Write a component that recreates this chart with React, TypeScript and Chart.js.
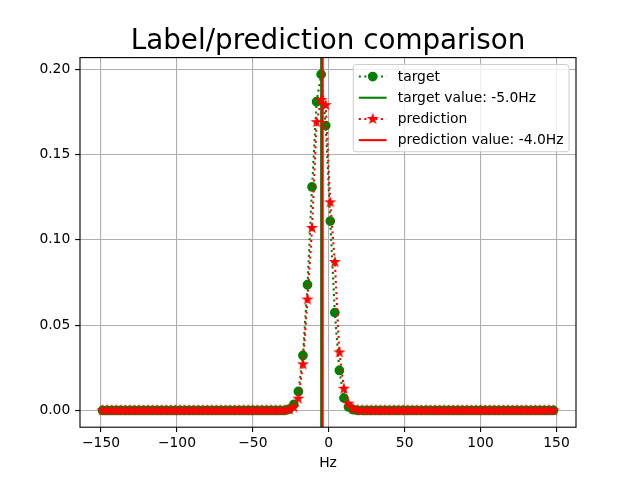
import { useEffect, useRef } from "react";
import { Chart, registerables, type ChartConfiguration, type Plugin } from "chart.js";

Chart.register(...registerables);

// frequency bins (Hz)
const HZ = [
  -149, -146, -143, -140, -137, -134, -131, -128, -125, -122,
  -119, -116, -113, -110, -107, -104, -101, -98, -95, -92,
  -89, -86, -83, -80, -77, -74, -71, -68, -65, -62,
  -59, -56, -53, -50, -47, -44, -41, -38, -35, -32,
  -29, -26, -23, -20, -17, -14, -11, -8, -5, -2,
  1, 4, 7, 10, 13, 16, 19, 22, 25, 28,
  31, 34, 37, 40, 43, 46, 49, 52, 55, 58,
  61, 64, 67, 70, 73, 76, 79, 82, 85, 88,
  91, 94, 97, 100, 103, 106, 109, 112, 115, 118,
  121, 124, 127, 130, 133, 136, 139, 142, 145, 148,
];

const TARGET = [
  0, 0, 0, 0, 0, 0, 0, 0, 0, 0,
  0, 0, 0, 0, 0, 0, 0, 0, 0, 0,
  0, 0, 0, 0, 0, 0, 0, 0, 0, 0,
  0, 0, 0, 0, 0, 0, 0, 0, 0, 0,
  0, 0.0008, 0.0035, 0.0111, 0.0322, 0.0737, 0.131, 0.181, 0.197, 0.167,
  0.111, 0.0573, 0.0234, 0.0072, 0.002, 0.0005, 0, 0, 0, 0,
  0, 0, 0, 0, 0, 0, 0, 0, 0, 0,
  0, 0, 0, 0, 0, 0, 0, 0, 0, 0,
  0, 0, 0, 0, 0, 0, 0, 0, 0, 0,
  0, 0, 0, 0, 0, 0, 0, 0, 0, 0,
];

const PREDICTION = [
  0, 0, 0, 0, 0, 0, 0, 0, 0, 0,
  0, 0, 0, 0, 0, 0, 0, 0, 0, 0,
  0, 0, 0, 0, 0, 0, 0, 0, 0, 0,
  0, 0, 0, 0, 0, 0, 0, 0, 0, 0,
  0.0001, 0.0005, 0.0018, 0.0069, 0.027, 0.065, 0.107, 0.169, 0.182, 0.179,
  0.122, 0.087, 0.034, 0.0127, 0.004, 0.001, 0.0003, 0, 0, 0,
  0, 0, 0, 0, 0, 0, 0, 0, 0, 0,
  0, 0, 0, 0, 0, 0, 0, 0, 0, 0,
  0, 0, 0, 0, 0, 0, 0, 0, 0, 0,
  0, 0, 0, 0, 0, 0, 0, 0, 0, 0,
];

const TARGET_VALUE = -5.0;
const PREDICTION_VALUE = -4.0;

const X_TICKS = [-150, -100, -50, 0, 50, 100, 150];
const Y_TICKS = [0, 0.05, 0.1, 0.15, 0.2];
const X_MIN = -163.85;
const X_MAX = 162.85;
const Y_MIN = -0.00985;
const Y_MAX = 0.20685;

const TITLE = "Label/prediction comparison";
const X_LABEL = "Hz";
const LEGEND_LABELS = [
  "target",
  `target value: ${TARGET_VALUE.toFixed(1)}Hz`,
  "prediction",
  `prediction value: ${PREDICTION_VALUE.toFixed(1)}Hz`,
];

const GREEN = "#008000";
const RED = "#ff0000";
const FONT = "'DejaVu Sans', sans-serif";
const FS = 13.89;
const LW = 2.08;
const DASH = [2.08, 3.44];

function makeStar(color: string) {
  const c = document.createElement("canvas");
  c.width = 14;
  c.height = 14;
  const g = c.getContext("2d")!;
  const R = 4.17;
  const r = R * 0.381966;
  g.beginPath();
  for (let k = 0; k < 10; k++) {
    const rad = k % 2 === 0 ? R : r;
    const ang = -Math.PI / 2 + (k * Math.PI) / 5;
    const px = 7 + rad * Math.cos(ang);
    const py = 7 + rad * Math.sin(ang);
    if (k === 0) g.moveTo(px, py);
    else g.lineTo(px, py);
  }
  g.closePath();
  g.fillStyle = color;
  g.strokeStyle = color;
  g.lineWidth = 1.39;
  g.lineJoin = "miter";
  g.fill();
  g.stroke();
  return c;
}

const App = () => {
  const chartRef = useRef<HTMLCanvasElement | null>(null);
  const chartInstance = useRef<Chart | null>(null);

  useEffect(() => {
    document.body.style.margin = "0";
    if (!chartRef.current) return;
    const star = makeStar(RED);

    const decorations: Plugin = {
      id: "decorations",
      afterDraw(chart) {
        const { ctx, chartArea: a } = chart;
        ctx.save();
        // frame
        ctx.strokeStyle = "#000";
        ctx.lineWidth = 1.11;
        ctx.strokeRect(a.left, a.top, a.right - a.left, a.bottom - a.top);

        // title + x label
        ctx.fillStyle = "#000";
        ctx.textAlign = "center";
        ctx.textBaseline = "alphabetic";
        ctx.font = `27.78px ${FONT}`;
        ctx.fillText(TITLE, (a.left + a.right) / 2, a.top - 8.33);
        ctx.font = `${FS}px ${FONT}`;
        ctx.fillText(X_LABEL, (a.left + a.right) / 2, 467);

        // legend
        ctx.font = `${FS}px ${FONT}`;
        const maxW = Math.max(...LEGEND_LABELS.map((t) => ctx.measureText(t).width));
        const handle = 2 * FS;
        const boxW = 0.4 * FS + handle + 0.8 * FS + maxW + 0.4 * FS;
        const boxH = 87.2;
        const right = a.right - 0.5 * FS;
        const top = a.top + 0.5 * FS;
        const left = right - boxW;
        ctx.beginPath();
        ctx.roundRect(left, top, boxW, boxH, 3);
        ctx.fillStyle = "rgba(255,255,255,0.8)";
        ctx.fill();
        ctx.strokeStyle = "#cccccc";
        ctx.lineWidth = 1;
        ctx.stroke();

        const hx0 = left + 0.4 * FS;
        const hx1 = hx0 + handle;
        const hxm = (hx0 + hx1) / 2;
        LEGEND_LABELS.forEach((label, i) => {
          const y = top + 12 + i * 21.2;
          const color = i < 2 ? GREEN : RED;
          ctx.strokeStyle = color;
          ctx.lineWidth = LW;
          ctx.setLineDash(i % 2 === 0 ? DASH : []);
          ctx.beginPath();
          ctx.moveTo(hx0, y);
          ctx.lineTo(hx1, y);
          ctx.stroke();
          ctx.setLineDash([]);
          if (i === 0) {
            ctx.beginPath();
            ctx.arc(hxm, y, 4.17, 0, Math.PI * 2);
            ctx.fillStyle = GREEN;
            ctx.fill();
            ctx.lineWidth = 1.39;
            ctx.stroke();
          } else if (i === 2) {
            ctx.drawImage(star, hxm - 7, y - 7);
          }
          ctx.fillStyle = "#000";
          ctx.textAlign = "left";
          ctx.textBaseline = "middle";
          ctx.fillText(label, hx1 + 0.8 * FS, y + 0.5);
        });
        ctx.restore();
      },
    };

    const config: ChartConfiguration<"scatter"> = {
      type: "scatter",
      data: {
        datasets: [
          {
            label: LEGEND_LABELS[0],
            data: HZ.map((x, i) => ({ x, y: TARGET[i] })),
            showLine: true,
            borderColor: GREEN,
            backgroundColor: GREEN,
            borderWidth: LW,
            borderDash: DASH,
            borderJoinStyle: "round",
            pointRadius: 4.17,
            pointBorderWidth: 1.39,
            pointStyle: "circle",
            order: 4,
          },
          {
            label: LEGEND_LABELS[1],
            data: [
              { x: TARGET_VALUE, y: Y_MIN },
              { x: TARGET_VALUE, y: Y_MAX },
            ],
            showLine: true,
            borderColor: GREEN,
            borderWidth: LW,
            pointRadius: 0,
            order: 3,
          },
          {
            label: LEGEND_LABELS[2],
            data: HZ.map((x, i) => ({ x, y: PREDICTION[i] })),
            showLine: true,
            borderColor: RED,
            backgroundColor: RED,
            borderWidth: LW,
            borderDash: DASH,
            borderJoinStyle: "round",
            pointStyle: star,
            order: 2,
          },
          {
            label: LEGEND_LABELS[3],
            data: [
              { x: PREDICTION_VALUE, y: Y_MIN },
              { x: PREDICTION_VALUE, y: Y_MAX },
            ],
            showLine: true,
            borderColor: RED,
            borderWidth: LW,
            pointRadius: 0,
            order: 1,
          },
        ],
      },
      options: {
        responsive: false,
        animation: false,
        devicePixelRatio: 1,
        events: [],
        layout: { padding: { top: 57.6, right: 64, left: 0, bottom: 0 } },
        plugins: {
          legend: { display: false },
          title: { display: false },
          tooltip: { enabled: false },
        },
        scales: {
          x: {
            type: "linear",
            min: X_MIN,
            max: X_MAX,
            afterBuildTicks: (scale) => {
              scale.ticks = X_TICKS.map((value) => ({ value }));
            },
            afterFit: (scale) => {
              scale.height = 52.8;
            },
            border: { display: false },
            grid: {
              color: "#b0b0b0",
              lineWidth: 1.11,
              tickColor: "#000",
              tickLength: 4.86,
              tickWidth: 1.11,
            },
            ticks: {
              autoSkip: false,
              maxRotation: 0,
              padding: 3,
              color: "#000",
              font: { family: FONT, size: FS },
              callback: (v) => String(v).replace("-", "\u2212"),
            },
          },
          y: {
            type: "linear",
            min: Y_MIN,
            max: Y_MAX,
            afterBuildTicks: (scale) => {
              scale.ticks = Y_TICKS.map((value) => ({ value }));
            },
            afterFit: (scale) => {
              scale.width = 80;
            },
            border: { display: false },
            grid: {
              color: "#b0b0b0",
              lineWidth: 1.11,
              tickColor: "#000",
              tickLength: 4.86,
              tickWidth: 1.11,
            },
            ticks: {
              autoSkip: false,
              padding: 4.86,
              color: "#000",
              font: { family: FONT, size: FS },
              callback: (v) => Number(v).toFixed(2),
            },
          },
        },
      },
      plugins: [decorations],
    };

    chartInstance.current = new Chart(chartRef.current, config);

    return () => {
      chartInstance.current?.destroy();
    };
  }, []);

  return (
    <div style={{ width: 640, height: 480, background: "#fff" }}>
      <canvas ref={chartRef} width={640} height={480}></canvas>
    </div>
  );
};

export default App;
